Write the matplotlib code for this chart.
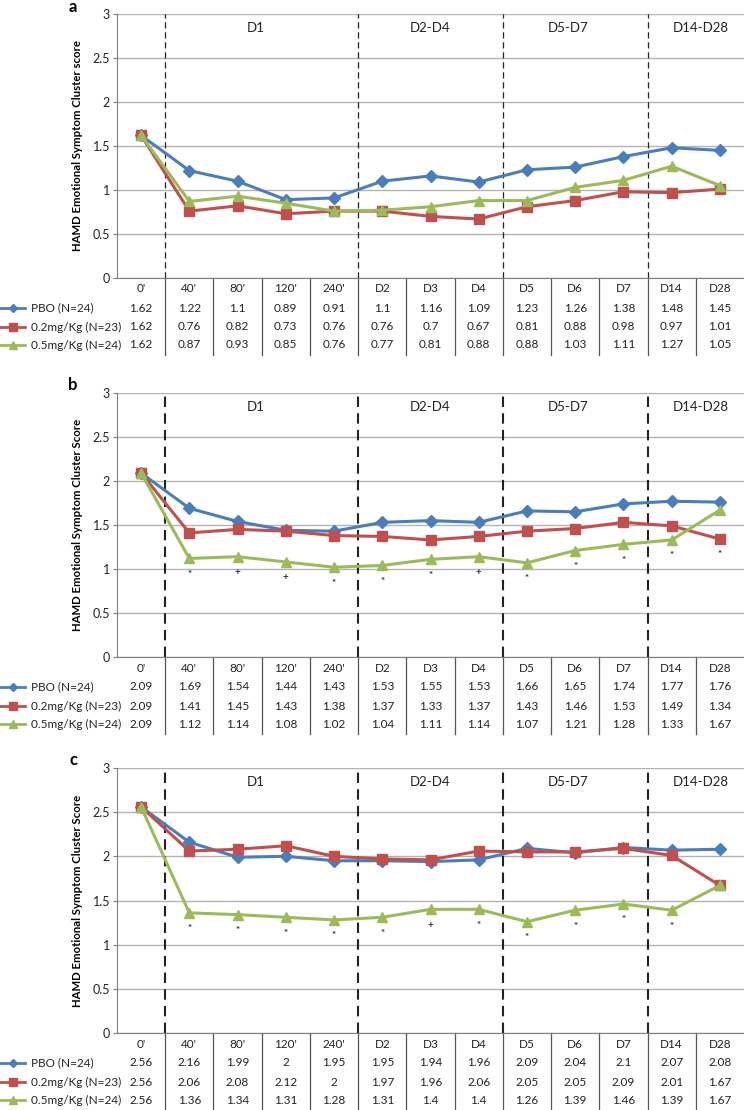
import matplotlib
matplotlib.use("Agg")
import matplotlib.pyplot as plt
from matplotlib.transforms import blended_transform_factory
import numpy as np

plt.rcParams['font.family'] = ['Lato', 'DejaVu Sans']

categories = ["0'", "40'", "80'", "120'", "240'", "D2", "D3", "D4", "D5", "D6", "D7", "D14", "D28"]
series_names = ["PBO (N=24)", "0.2mg/Kg (N=23)", "0.5mg/Kg (N=24)"]
groups = ["D1", "D2-D4", "D5-D7", "D14-D28"]
group_pos = [2.38, 6.0, 8.85, 11.6]
group_bounds = [0.5, 4.5, 7.5, 10.5]

a_pbo = [1.62, 1.22, 1.1, 0.89, 0.91, 1.1, 1.16, 1.09, 1.23, 1.26, 1.38, 1.48, 1.45]
a_low = [1.62, 0.76, 0.82, 0.73, 0.76, 0.76, 0.7, 0.67, 0.81, 0.88, 0.98, 0.97, 1.01]
a_high = [1.62, 0.87, 0.93, 0.85, 0.76, 0.77, 0.81, 0.88, 0.88, 1.03, 1.11, 1.27, 1.05]

b_pbo = [2.09, 1.69, 1.54, 1.44, 1.43, 1.53, 1.55, 1.53, 1.66, 1.65, 1.74, 1.77, 1.76]
b_low = [2.09, 1.41, 1.45, 1.43, 1.38, 1.37, 1.33, 1.37, 1.43, 1.46, 1.53, 1.49, 1.34]
b_high = [2.09, 1.12, 1.14, 1.08, 1.02, 1.04, 1.11, 1.14, 1.07, 1.21, 1.28, 1.33, 1.67]
b_marks = ["", "*", "+", "+", "*", "*", "*", "+", "*", "*", "*", "*", "*"]

c_pbo = [2.56, 2.16, 1.99, 2, 1.95, 1.95, 1.94, 1.96, 2.09, 2.04, 2.1, 2.07, 2.08]
c_low = [2.56, 2.06, 2.08, 2.12, 2, 1.97, 1.96, 2.06, 2.05, 2.05, 2.09, 2.01, 1.67]
c_high = [2.56, 1.36, 1.34, 1.31, 1.28, 1.31, 1.4, 1.4, 1.26, 1.39, 1.46, 1.39, 1.67]
c_marks = ["", "*", "*", "*", "*", "*", "+", "*", "*", "*", "*", "*", ""]

colors = ["#4A7EBB", "#C0504D", "#9BBB59"]
markers = ["D", "s", "^"]
msizes = [6.0, 7.0, 7.5]

W, H = 744, 1110
fig = plt.figure(figsize=(W / 100, H / 100), dpi=100)

panels = [
    ("a", [a_pbo, a_low, a_high], None, "HAMD Emotional Symptom Cluster score", 14, 278, 0.9),
    ("b", [b_pbo, b_low, b_high], b_marks, "HAMD Emotional Symptom Cluster Score", 393, 657, 1.5),
    ("c", [c_pbo, c_low, c_high], c_marks, "HAMD Emotional Symptom Cluster Score", 768, 1033, 1.5),
]

x = np.arange(len(categories))
left_px = 117

for label, data, marks, ylabel, top_px, bot_px, dash_lw in panels:
    ax = fig.add_axes([left_px / W, 1 - bot_px / H, 1 - left_px / W, (bot_px - top_px) / H])
    ax.set_xlim(-0.5, len(categories) - 0.5)
    ax.set_ylim(0, 3)
    ax.set_yticks(np.arange(0, 3.01, 0.5))
    ax.set_yticklabels(["0", "0.5", "1", "1.5", "2", "2.5", "3"])
    ax.set_xticks([])
    ax.grid(axis='y', color="#B4B4B4", linewidth=1.0)
    ax.set_axisbelow(True)
    for s in ["top", "right"]:
        ax.spines[s].set_visible(False)
    ax.spines["left"].set_color("#7F7F7F")
    ax.spines["bottom"].set_color("#7F7F7F")
    ax.tick_params(axis='y', length=3, color="#7F7F7F", labelsize=9, labelcolor="#222222", pad=2)
    ax.set_ylabel(ylabel, fontsize=8.2, fontweight='bold', labelpad=7)

    for gb in group_bounds:
        ax.axvline(gb, color="#222222", linestyle=(0, (5, 3)), linewidth=dash_lw, zorder=1)
    for gp, gl in zip(group_pos, groups):
        ax.text(gp, 2.84, gl, ha='center', va='center', fontsize=9.5, color="#222222")

    for vals, col, mk, ms in zip(data, colors, markers, msizes):
        ax.plot(x, vals, color=col, linewidth=2.2, marker=mk, markersize=ms,
                markeredgecolor=col, zorder=3)

    if marks:
        mins = np.min(np.array(data), axis=0)
        for xi, (m, mv) in enumerate(zip(marks, mins)):
            if m:
                ax.text(xi, mv - 0.18, m, ha='center', va='center', fontsize=7,
                        fontweight='bold', color="#333333")

    # table
    trans = blended_transform_factory(ax.transData, ax.transAxes)
    hpx = bot_px - top_px
    for b in np.arange(0.5, len(categories) - 1, 1.0):
        ax.plot([b, b], [0, -77 / hpx], transform=trans, color="#555555", linewidth=0.9,
                clip_on=False)
    row_off = [11, 30, 49, 67]
    for xi, c in enumerate(categories):
        ax.text(xi, -row_off[0] / hpx, c, transform=trans, ha='center', va='center',
                fontsize=8.5, color="#222222")
        for r, vals in enumerate(data):
            ax.text(xi, -row_off[r + 1] / hpx, f"{vals[xi]:g}", transform=trans,
                    ha='center', va='center', fontsize=8.5, color="#222222")
    ftrans = blended_transform_factory(fig.transFigure, ax.transAxes)
    for r, (name, col, mk, ms) in enumerate(zip(series_names, colors, markers, msizes)):
        yy = -row_off[r + 1] / hpx
        ax.plot([0, 25 / W], [yy, yy], transform=ftrans, color=col, linewidth=2.0,
                clip_on=False)
        ax.plot([13 / W], [yy], transform=ftrans, color=col, marker=mk, markersize=ms * 0.75,
                clip_on=False)
        ax.text(31 / W, yy, name, transform=ftrans, ha='left', va='center', fontsize=8.5,
                color="#222222")

    fig.text(73 / W, 1 - max(top_px - 8, 7) / H, label, ha='center', va='center', fontsize=12,
             fontweight='bold')

fig.savefig("out.png", dpi=100)
